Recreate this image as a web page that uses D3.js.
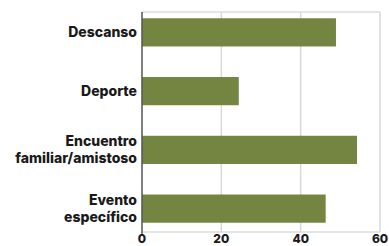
<!DOCTYPE html>
<html>
<head>
<meta charset="utf-8">
<script src="https://cdn.jsdelivr.net/npm/d3@7"></script>
<style>
  body { margin: 0; background: #fff; }
  svg { display: block; font-family: "Inter", "Noto Sans", sans-serif; }
</style>
</head>
<body>
<div id="chart"></div>
<script>
// data
const categories = ["Descanso", "Deporte", "Encuentro\nfamiliar/amistoso", "Evento\nespecífico"];
const values = [48.9, 24.4, 54.2, 46.3];
const xTicks = [0, 20, 40, 60];

const width = 389;
const height = 246;
const margin = {left: 142, right: 9, top: 12, bottom: 14};

const svg = d3.select("#chart")
  .append("svg")
  .attr("width", width)
  .attr("height", height);

const xScale = d3.scaleLinear()
  .domain([0, 60])
  .range([margin.left, width - margin.right]);

const yScale = d3.scaleBand()
  .domain(categories)
  .range([3, 238])
  .paddingInner(0.52)
  .paddingOuter(0.26);

const plotTop = margin.top, plotBottom = height - margin.bottom;

// gridlines
svg.append("g")
  .selectAll("line")
  .data(xTicks.slice(1))
  .join("line")
    .attr("x1", d => xScale(d)).attr("x2", d => xScale(d))
    .attr("y1", plotTop).attr("y2", plotBottom)
    .attr("stroke", "#d9d9d9")
    .attr("stroke-width", 1.5);

// top and bottom frame
[plotTop, plotBottom].forEach(y => {
  svg.append("line")
    .attr("x1", xScale(0)).attr("x2", xScale(60))
    .attr("y1", y).attr("y2", y)
    .attr("stroke", "#dcdcdc")
    .attr("stroke-width", 1.5);
});

// bars
svg.selectAll(".bar")
  .data(values)
  .join("rect")
    .attr("class", "bar")
    .attr("x", xScale(0))
    .attr("y", (d, i) => yScale(categories[i]))
    .attr("width", d => xScale(d) - xScale(0))
    .attr("height", yScale.bandwidth())
    .attr("fill", "#738540");

// left axis line
svg.append("line")
  .attr("x1", xScale(0)).attr("x2", xScale(0))
  .attr("y1", plotTop).attr("y2", plotBottom + 3)
  .attr("stroke", "#555")
  .attr("stroke-width", 1.5);

// category labels
svg.append("g")
  .selectAll("text")
  .data(categories)
  .join("text")
    .attr("text-anchor", "end")
    .attr("font-size", "14px")
    .attr("font-weight", 800)
    .attr("fill", "#1a1a1a")
    .each(function(d) {
      const lines = d.split("\n");
      const cy = yScale(d) + yScale.bandwidth() / 2;
      const lh = 17;
      lines.forEach((l, j) => {
        d3.select(this).append("tspan")
          .attr("x", xScale(0) - 5)
          .attr("y", cy + (j - (lines.length - 1) / 2) * lh)
          .attr("dy", "0.35em")
          .text(l);
      });
    });

// x tick labels
svg.append("g")
  .selectAll("text")
  .data(xTicks)
  .join("text")
    .attr("x", d => xScale(d))
    .attr("y", 243)
    .attr("text-anchor", "middle")
    .attr("font-size", "12px")
    .attr("font-weight", 800)
    .attr("fill", "#1a1a1a")
    .text(d => d);
</script>
</body>
</html>
